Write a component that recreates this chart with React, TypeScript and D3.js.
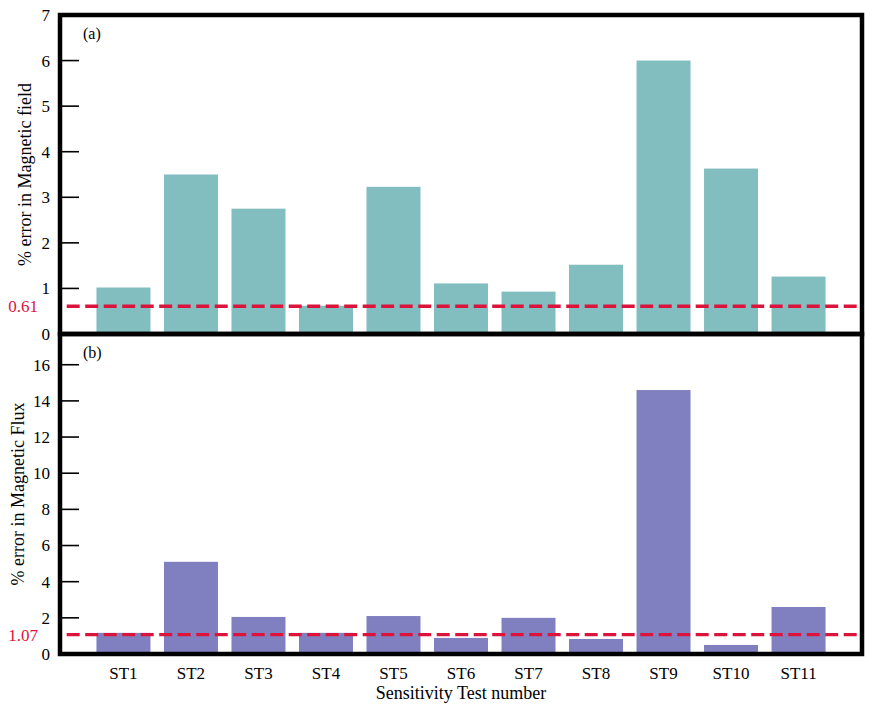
import React from "react";
import * as d3 from "d3";

const categories = ["ST1", "ST2", "ST3", "ST4", "ST5", "ST6", "ST7", "ST8", "ST9", "ST10", "ST11"];
const fieldError = [1.02, 3.5, 2.75, 0.62, 3.23, 1.11, 0.93, 1.52, 6.0, 3.63, 1.26];
const fluxError = [1.17, 5.1, 2.05, 1.17, 2.1, 0.89, 2.0, 0.83, 14.6, 0.5, 2.6];
const fieldMean = 0.61;
const fluxMean = 1.07;
const fieldTicks = [0, 1, 2, 3, 4, 5, 6, 7];
const fluxTicks = [0, 2, 4, 6, 8, 10, 12, 14, 16];

const W = 871;
const H = 714;
const left = 60;
const right = 862;
const FONT = "Liberation Serif";
const FS = 17;
const LFS = 18;

const x = d3.scaleLinear().domain([-0.94, 10.94]).range([left, right]);
const barW = x(0.4) - x(-0.4);

interface PanelProps {
  values: number[];
  mean: number;
  ticks: number[];
  yMax: number;
  top: number;
  bottom: number;
  color: string;
  tag: string;
  ylabel: string;
  ylabelX: number;
}

function Panel({ values, mean, ticks, yMax, top, bottom, color, tag, ylabel, ylabelX }: PanelProps) {
  const y = d3.scaleLinear().domain([0, yMax]).range([bottom, top]);
  const midY = (top + bottom) / 2;
  return (
    <g>
      {values.map((v, i) => (
        <rect key={i} x={x(i) - barW / 2} y={y(v)} width={barW} height={y(0) - y(v)} fill={color} />
      ))}
      <line
        x1={left}
        x2={right}
        y1={y(mean)}
        y2={y(mean)}
        stroke="#DC143C"
        strokeWidth={3.4}
        strokeDasharray="13 5.5"
        strokeDashoffset={11.8}
      />
      {ticks.map((t) => (
        <g key={t}>
          {t > 0 && y(t) > top + 2 && (
            <line x1={left} x2={left + 19} y1={y(t)} y2={y(t)} stroke="#000" strokeWidth={1.6} />
          )}
          <text x={50} y={y(t)} dy="0.35em" textAnchor="end" style={{ fontSize: FS, fontFamily: FONT }}>
            {t}
          </text>
        </g>
      ))}
      <text x={38} y={y(mean)} dy="0.35em" textAnchor="end" fill="#DC143C" style={{ fontSize: FS, fontFamily: FONT }}>
        {mean.toFixed(2)}
      </text>
      <text x={83} y={top + 24} style={{ fontSize: 16, fontFamily: FONT }}>
        {tag}
      </text>
      <text
        transform={`translate(${ylabelX},${midY}) rotate(-90)`}
        textAnchor="middle"
        dy="0.35em"
        style={{ fontSize: LFS, fontFamily: FONT }}
      >
        {ylabel}
      </text>
      <rect x={left} y={top} width={right - left} height={bottom - top} fill="none" stroke="#000" strokeWidth={4.5} />
    </g>
  );
}

export default function App() {
  return (
    <svg width={W} height={H} style={{ position: "absolute", left: 0, top: 0, background: "#fff" }}>
      <Panel
        values={fieldError}
        mean={fieldMean}
        ticks={fieldTicks}
        yMax={7}
        top={15}
        bottom={334}
        color="#82BEC0"
        tag="(a)"
        ylabel="% error in Magnetic field"
        ylabelX={25}
      />
      <Panel
        values={fluxError}
        mean={fluxMean}
        ticks={fluxTicks}
        yMax={17.7}
        top={334}
        bottom={654}
        color="#8080C0"
        tag="(b)"
        ylabel="% error in Magnetic Flux"
        ylabelX={18}
      />
      {categories.map((c, i) => (
        <text key={c} x={x(i)} y={679} textAnchor="middle" style={{ fontSize: FS, fontFamily: FONT }}>
          {c}
        </text>
      ))}
      <text x={(left + right) / 2} y={699} textAnchor="middle" style={{ fontSize: LFS, fontFamily: FONT }}>
        Sensitivity Test number
      </text>
    </svg>
  );
}
